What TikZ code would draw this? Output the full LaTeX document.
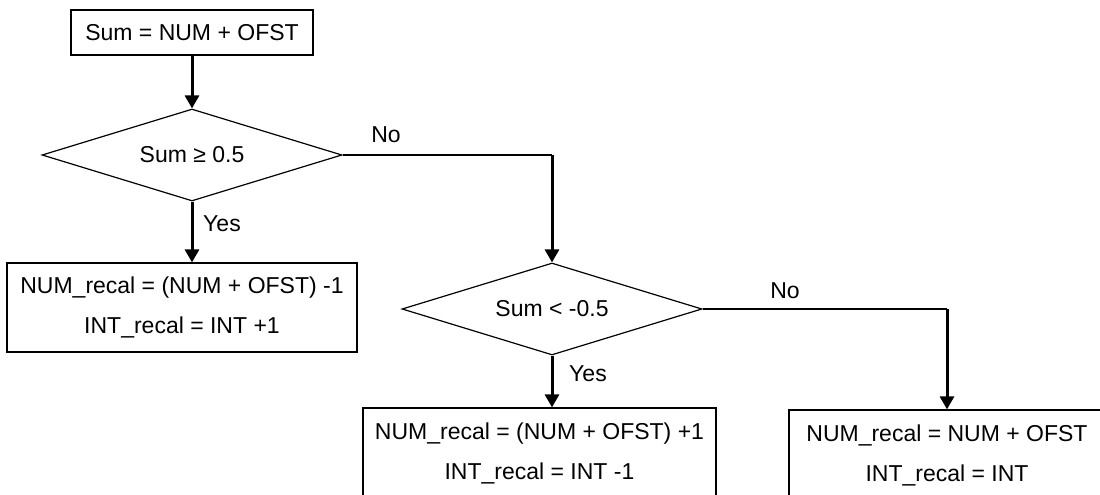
\documentclass[tikz,border=0pt]{standalone}
\usepackage{fontspec}
\setmainfont{Liberation Sans}
\usetikzlibrary{shapes.geometric, arrows.meta}
\tikzstyle{arrow}    = [line width=1.5pt,-{Triangle[length=6.5pt,width=7pt]}]
\tikzstyle{line}     = [line width=0.65pt]
\tikzstyle{block}    = [rectangle, draw, line width=0.6pt, inner sep=0pt]
\tikzstyle{decision} = [diamond, draw, line width=0.6pt, aspect=3.3, minimum width=150pt, minimum height=46pt, inner sep=0pt]
\tikzset{every node/.style={align=center, font=\fontsize{11.5}{20}\selectfont}}

\begin{document}
\begin{tikzpicture}[x=0.5pt, y=0.5pt]
    \useasboundingbox (0,0) rectangle (1100,494);

    \node (sum)  at (192, 461.5) [block, minimum width=121pt, minimum height=22.5pt]
          {Sum = NUM + OFST};
    \node (dec1) at (192, 339)   [decision] {Sum ≥ 0.5};
    \node (recA) at (182, 186.5) [block, minimum width=175pt, minimum height=44.5pt]
          {NUM\_recal = (NUM + OFST) -1\\INT\_recal = INT +1};
    \node (dec2) at (552, 185)   [decision] {Sum < -0.5};
    \node (recB) at (539.5, 41)  [block, minimum width=176.5pt, minimum height=45pt]
          {NUM\_recal = (NUM + OFST) +1\\INT\_recal = INT -1};
    \node (recC) at (947, 39)    [block, minimum width=158pt, minimum height=45pt]
          {NUM\_recal = NUM + OFST\\INT\_recal = INT};

    % branch labels
    \node (no1)  at (386, 359)   {No};
    \node (yes1) at (222, 270)   {Yes};
    \node (yes2) at (588, 120)   {Yes};
    \node (no2)  at (785, 203.5) {No};

    \coordinate (turn1) at (552, 339);
    \coordinate (turn2) at (947, 185);

    \draw [arrow] (sum.south)  -- (dec1.north);
    \draw [arrow] (dec1.south) -- (dec1.south |- recA.north);
    \draw [line]  (dec1.east)  -- (turn1);
    \draw [arrow] (turn1)      -- (dec2.north);
    \draw [arrow] (dec2.south) -- (dec2.south |- recB.north);
    \draw [line]  (dec2.east)  -- (turn2);
    \draw [arrow] (turn2)      -- (recC.north);
\end{tikzpicture}
\end{document}
